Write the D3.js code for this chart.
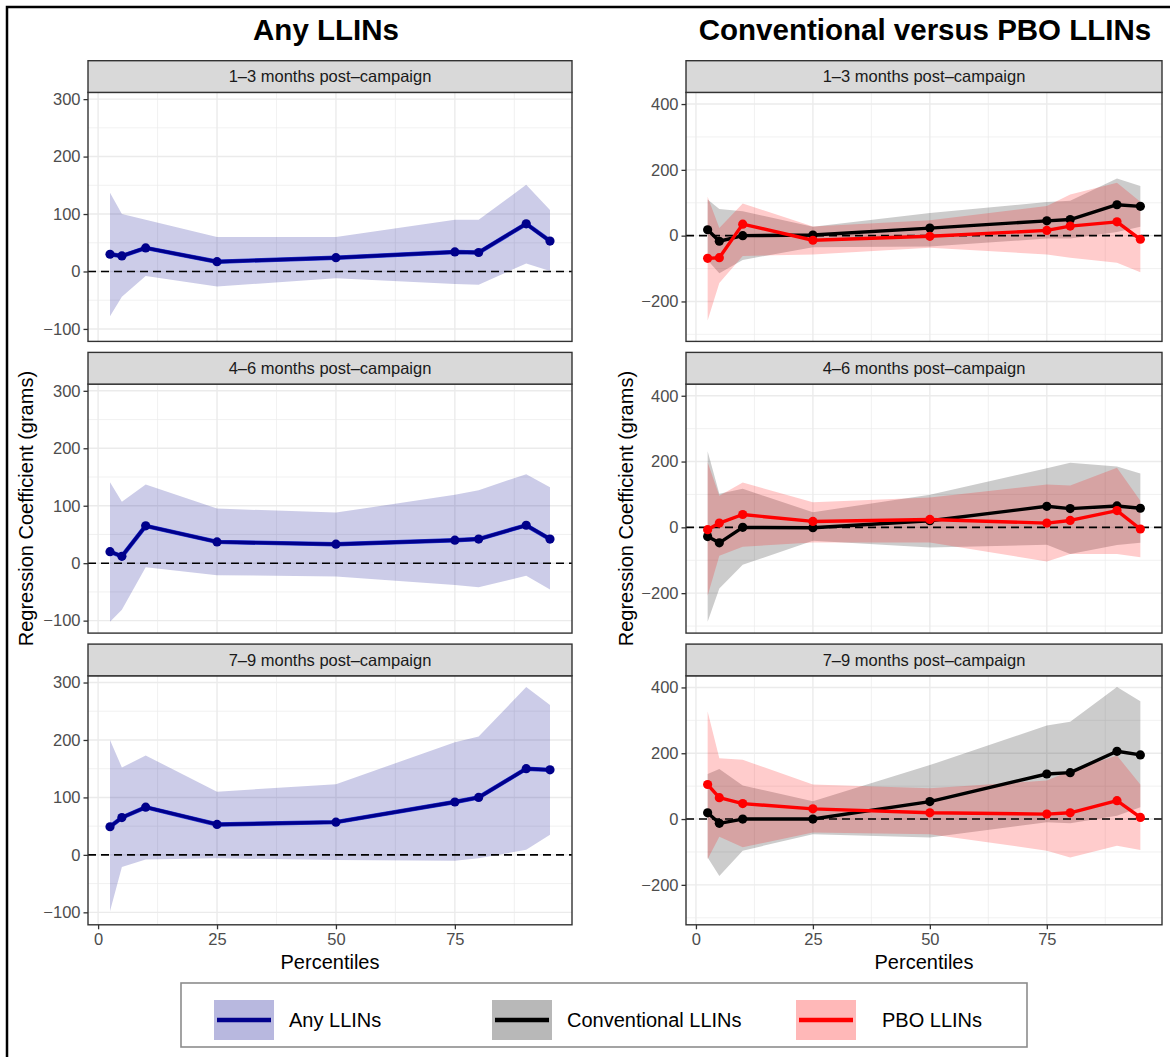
<!DOCTYPE html>
<html>
<head>
<meta charset="utf-8">
<script src="https://cdn.jsdelivr.net/npm/d3@7"></script>
<style>
  body { margin: 0; background: #fff; }
  svg { display: block; font-family: "Liberation Sans", Arial, Helvetica, sans-serif; }
</style>
</head>
<body>
<svg width="1170" height="1057"></svg>
<script>
// ---- data ----
var percentiles = [2.5, 5, 10, 25, 50, 75, 80, 90, 95];
var periods = ["1–3 months post–campaign", "4–6 months post–campaign", "7–9 months post–campaign"];

// Any LLINs
var anyEst = [[30, 27, 41, 17, 24, 34, 33, 83, 53],
              [20, 12, 65, 37, 33, 40, 42, 66, 42],
              [49, 65, 83, 53, 57, 92, 100, 150, 148]];
var anyLo  = [[-78, -44, -8, -26, -12, -22, -23, 14, 1],
              [-102, -81, -7, -21, -23, -38, -42, -22, -46],
              [-98, -21, -8, -6, -9, -10, -6, 9, 35]];
var anyHi  = [[137, 100, 90, 60, 60, 90, 90, 151, 107],
              [141, 107, 137, 95, 88, 119, 127, 155, 132],
              [200, 152, 173, 110, 123, 196, 206, 292, 261]];

// Conventional LLINs
var convEst = [[18, -17, 0, 2, 23, 45, 49, 94, 89],
               [-28, -47, 0, -1, 20, 64, 57, 65, 58],
               [19, -13, 0, 0, 53, 137, 141, 206, 195]];
var convLo  = [[-75, -114, -74, -35, -33, -9, -9, 11, 27],
               [-287, -186, -114, -41, -61, -53, -81, -54, -47],
               [-117, -173, -96, -46, -56, -10, -13, 10, 36]];
var convHi  = [[110, 81, 74, 27, 69, 102, 106, 174, 151],
               [231, 102, 117, 46, 99, 180, 196, 185, 164],
               [137, 152, 102, 54, 164, 284, 296, 401, 358]];

// PBO LLINs
var pboEst = [[-69, -67, 35, -14, -2, 16, 29, 42, -11],
              [-7, 13, 39, 18, 24, 13, 21, 51, -5],
              [105, 65, 47, 31, 19, 15, 19, 56, 5]];
var pboLo  = [[-258, -144, -62, -57, -37, -57, -67, -82, -111],
              [-208, -86, -59, -46, -46, -104, -81, -81, -91],
              [-122, -54, -86, -41, -46, -96, -117, -81, -94]];
var pboHi  = [[118, 23, 98, 28, 47, 90, 125, 161, 103],
              [198, 96, 136, 76, 91, 130, 127, 181, 81],
              [327, 185, 180, 105, 94, 117, 147, 193, 105]];

var xTicks = [0, 25, 50, 75];
var xMinor = [12.5, 37.5, 62.5, 87.5];
var leftTicks = [-100, 0, 100, 200, 300];
var leftMinor = [-50, 50, 150, 250];
var rightTicks = [-200, 0, 200, 400];
var rightMinor = [-300, -100, 100, 300];

var legendLabels = ["Any LLINs", "Conventional LLINs", "PBO LLINs"];

// ---- layout ----
var svg = d3.select("svg");
var stripTop0 = 60.7, stride = 291.7, stripH = 31.7, plotH = 249;

// ggplot-like 5% expansion
function expand(lo, hi) { var d = (hi - lo) * 0.05; return [lo - d, hi + d]; }

var xDom = expand(d3.min(percentiles), d3.max(percentiles));
var leftDom = expand(d3.min(anyLo.flat()), d3.max(anyHi.flat()));
var rightDom = expand(d3.min(convLo.flat().concat(pboLo.flat())),
                      d3.max(convHi.flat().concat(pboHi.flat())));

var fmt = function(v) { return v < 0 ? "\u2212" + Math.abs(v) : String(v); };

// outer frame (runs off the right/bottom of the picture)
svg.append("rect").attr("x", 7).attr("y", 7).attr("width", 1300).attr("height", 1200)
  .attr("fill", "none").attr("stroke", "#000").attr("stroke-width", 2.5);

function drawColumn(cfg) {
  var x = d3.scaleLinear().domain(xDom).range([cfg.x0, cfg.x1]);

  svg.append("text").attr("x", cfg.titleX).attr("y", 40)
    .attr("text-anchor", "middle").attr("font-weight", "bold").attr("font-size", 29.5)
    .text(cfg.title);

  periods.forEach(function(p, i) {
    var sTop = stripTop0 + i * stride;
    var pTop = sTop + stripH, pBot = pTop + plotH;
    var y = d3.scaleLinear().domain(cfg.yDom).range([pBot, pTop]);
    var g = svg.append("g");

    // grid
    g.selectAll(".ymin").data(cfg.yMinor).join("line")
      .attr("x1", cfg.x0).attr("x2", cfg.x1).attr("y1", y).attr("y2", y)
      .attr("stroke", "#ebebeb").attr("stroke-width", 0.7);
    g.selectAll(".xmin").data(xMinor).join("line")
      .attr("y1", pTop).attr("y2", pBot).attr("x1", x).attr("x2", x)
      .attr("stroke", "#ebebeb").attr("stroke-width", 0.7);
    g.selectAll(".ymaj").data(cfg.yTicks).join("line")
      .attr("x1", cfg.x0).attr("x2", cfg.x1).attr("y1", y).attr("y2", y)
      .attr("stroke", "#ebebeb").attr("stroke-width", 1.4);
    g.selectAll(".xmaj").data(xTicks).join("line")
      .attr("y1", pTop).attr("y2", pBot).attr("x1", x).attr("x2", x)
      .attr("stroke", "#ebebeb").attr("stroke-width", 1.4);

    var clipId = "clip" + cfg.key + i;
    svg.append("clipPath").attr("id", clipId).append("rect")
      .attr("x", cfg.x0).attr("y", pTop).attr("width", cfg.x1 - cfg.x0).attr("height", plotH);
    var body = g.append("g").attr("clip-path", "url(#" + clipId + ")");

    var area = d3.area().x(function(d) { return x(d.p); })
      .y0(function(d) { return y(d.lo); }).y1(function(d) { return y(d.hi); });
    var line = d3.line().x(function(d) { return x(d.p); }).y(function(d) { return y(d.est); });

    var series = cfg.series.map(function(s) {
      return {
        s: s,
        rows: percentiles.map(function(pc, j) {
          return { p: pc, est: s.est[i][j], lo: s.lo[i][j], hi: s.hi[i][j] };
        })
      };
    });

    series.forEach(function(d) {
      body.append("path").datum(d.rows).attr("d", area)
        .attr("fill", d.s.fill).attr("fill-opacity", 0.2);
    });

    body.append("line").attr("x1", cfg.x0).attr("x2", cfg.x1)
      .attr("y1", y(0)).attr("y2", y(0))
      .attr("stroke", "#000").attr("stroke-width", 1.6).attr("stroke-dasharray", "8,5");

    series.forEach(function(d) {
      if (d.s.halo) {
        body.append("path").datum(d.rows).attr("d", line)
          .attr("fill", "none").attr("stroke", d.s.halo).attr("stroke-width", 4.4);
      }
      body.append("path").datum(d.rows).attr("d", line)
        .attr("fill", "none").attr("stroke", d.s.color).attr("stroke-width", 3.4)
        .attr("stroke-linejoin", "round");
      body.selectAll(null).data(d.rows).join("circle")
        .attr("cx", function(r) { return x(r.p); }).attr("cy", function(r) { return y(r.est); })
        .attr("r", 4.6).attr("fill", d.s.color);
    });

    // panel border
    g.append("rect").attr("x", cfg.x0).attr("y", pTop).attr("width", cfg.x1 - cfg.x0).attr("height", plotH)
      .attr("fill", "none").attr("stroke", "#333").attr("stroke-width", 1.4);

    // strip
    g.append("rect").attr("x", cfg.x0).attr("y", sTop).attr("width", cfg.x1 - cfg.x0).attr("height", stripH)
      .attr("fill", "#d9d9d9").attr("stroke", "#333").attr("stroke-width", 1.4);
    g.append("text").attr("x", (cfg.x0 + cfg.x1) / 2).attr("y", sTop + stripH / 2)
      .attr("dy", "0.35em").attr("text-anchor", "middle").attr("font-size", 16.5)
      .attr("fill", "#1a1a1a").text(p);

    // y axis
    var ya = g.append("g").attr("transform", "translate(" + cfg.x0 + ",0)")
      .call(d3.axisLeft(y).tickValues(cfg.yTicks).tickFormat(fmt).tickSize(4.5).tickPadding(3));
    ya.select(".domain").remove();
    ya.selectAll(".tick line").attr("stroke", "#333").attr("stroke-width", 1.3);
    ya.selectAll(".tick text").attr("font-size", 16.5).attr("fill", "#4d4d4d")
      .attr("font-family", "Liberation Sans, Arial, sans-serif");

    // x axis on the bottom panel only
    if (i === periods.length - 1) {
      var xa = g.append("g").attr("transform", "translate(0," + pBot + ")")
        .call(d3.axisBottom(x).tickValues(xTicks).tickSize(4.5).tickPadding(4));
      xa.select(".domain").remove();
      xa.selectAll(".tick line").attr("stroke", "#333").attr("stroke-width", 1.3);
      xa.selectAll(".tick text").attr("font-size", 16.5).attr("fill", "#4d4d4d")
        .attr("font-family", "Liberation Sans, Arial, sans-serif");
      g.append("text").attr("x", (cfg.x0 + cfg.x1) / 2).attr("y", 969)
        .attr("text-anchor", "middle").attr("font-size", 20).text("Percentiles");
    }
  });

  var midY = (stripTop0 + stripH + stripTop0 + 2 * stride + stripH + plotH) / 2;
  svg.append("text").attr("transform", "translate(" + cfg.yTitleX + "," + midY + ") rotate(-90)")
    .attr("text-anchor", "middle").attr("font-size", 20).text("Regression Coefficient (grams)");
}

drawColumn({
  key: "L", title: "Any LLINs", titleX: 326, x0: 88, x1: 572, yTitleX: 33,
  yDom: leftDom, yTicks: leftTicks, yMinor: leftMinor,
  series: [{ est: anyEst, lo: anyLo, hi: anyHi, color: "#00008b", fill: "#00008b", halo: "#2a3ad6" }]
});

drawColumn({
  key: "R", title: "Conventional versus PBO LLINs", titleX: 925, x0: 686, x1: 1162, yTitleX: 633,
  yDom: rightDom, yTicks: rightTicks, yMinor: rightMinor,
  series: [
    { est: convEst, lo: convLo, hi: convHi, color: "#000", fill: "#000" },
    { est: pboEst, lo: pboLo, hi: pboHi, color: "#ff0000", fill: "#ff0000" }
  ]
});

// ---- legend ----
var legend = svg.append("g");
legend.append("rect").attr("x", 181).attr("y", 983).attr("width", 846).attr("height", 64)
  .attr("fill", "#fff").attr("stroke", "#8c8c8c").attr("stroke-width", 1.6);

var keyX = [214, 492, 796], textX = [289, 567, 882];
var keyLine = ["#00008b", "#000", "#ff0000"], keyFill = ["#00008b", "#000", "#ff0000"];
legendLabels.forEach(function(lab, k) {
  legend.append("rect").attr("x", keyX[k]).attr("y", 1000).attr("width", 60).attr("height", 40)
    .attr("fill", keyFill[k]).attr("fill-opacity", 0.28);
  legend.append("line").attr("x1", keyX[k] + 3).attr("x2", keyX[k] + 57)
    .attr("y1", 1020).attr("y2", 1020).attr("stroke", keyLine[k]).attr("stroke-width", 4.5);
  legend.append("text").attr("x", textX[k]).attr("y", 1020).attr("dy", "0.35em")
    .attr("font-size", 20).text(lab);
});
</script>
</body>
</html>
